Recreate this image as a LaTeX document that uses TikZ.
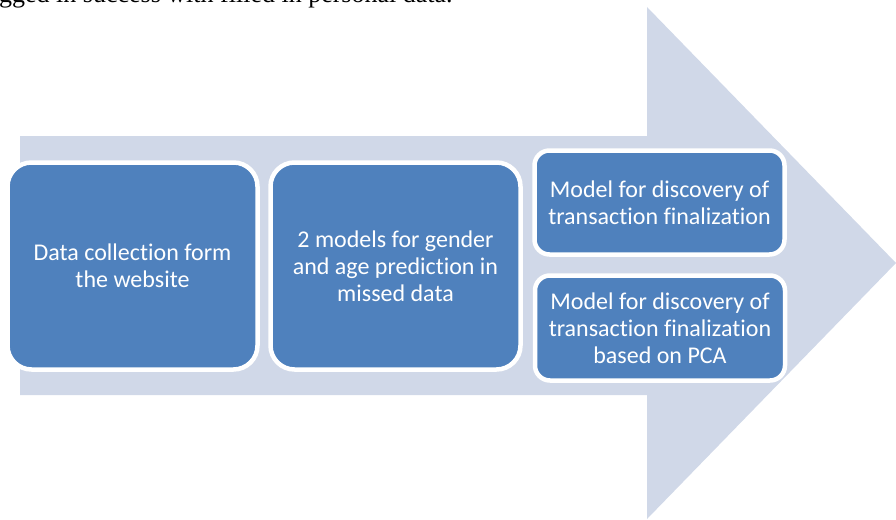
\documentclass[tikz,border=0pt]{standalone}
\usepackage{fontspec}
\setmainfont{Carlito}[Ligatures=NoCommon]
\newfontfamily\captionfont{Liberation Serif}
\definecolor{arrowfill}{RGB}{208,216,232}
\definecolor{boxfill}{RGB}{79,129,189}
\begin{document}
\begin{tikzpicture}[x=1pt,y=-1pt,
    stage/.style={draw=white,line width=4.5pt,fill=boxfill,rounded corners=24pt,
      text=white,align=center,inner sep=0pt,
      font=\fontsize{24}{27}\selectfont},
    substage/.style={stage,rounded corners=15pt}]
  \useasboundingbox (0,0) rectangle (896,519);
  \begin{scope}
    \clip (0,0) rectangle (896,519);
    \node[anchor=base west,inner sep=0pt,font=\captionfont\fontsize{26}{30}\selectfont]
      (caption) at (-1,3) {gged in success with filled in personal data.};
  \end{scope}
  % big arrow behind the stages
  \fill[arrowfill] (20,136) -- (647,136) -- (647,7) -- (896,263)
    -- (647,519) -- (647,395) -- (20,395) -- cycle;
  \node[stage,minimum width=250,minimum height=207] (collect) at (132.5,266)
    {Data collection form\\the website};
  \node[stage,minimum width=250,minimum height=207] (predict) at (395.5,266)
    {2 models for gender\\and age prediction in\\missed data};
  \node[substage,minimum width=250,minimum height=104] (final) at (659.5,202.5)
    {Model for discovery of\\transaction finalization};
  \node[substage,minimum width=250,minimum height=105] (finalpca) at (660,328)
    {Model for discovery of\\transaction finalization\\based on PCA};
\end{tikzpicture}
\end{document}
